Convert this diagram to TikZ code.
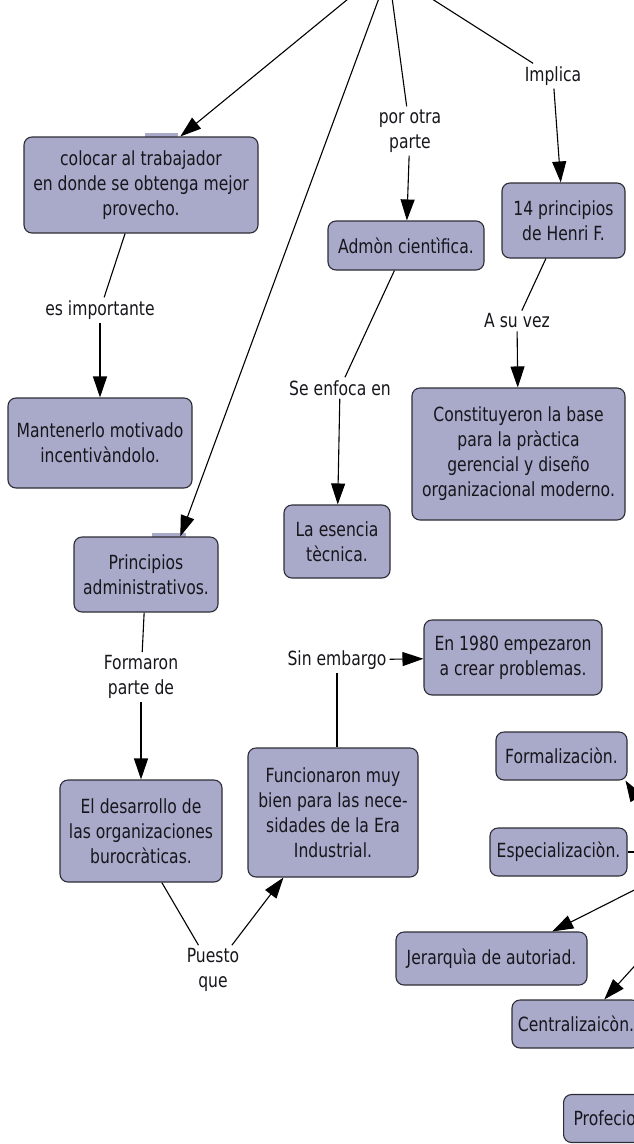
\documentclass[tikz,border=0pt]{standalone}
\usepackage{fontspec}
\setmainfont[FakeStretch=0.8]{DejaVu Sans}
\usetikzlibrary{arrows.meta}
\definecolor{cfill}{RGB}{169,169,201}
\definecolor{cline}{RGB}{45,45,55}
\definecolor{ctext}{RGB}{22,22,28}

\begin{document}
\begin{tikzpicture}[%
      x=1pt, y=-1pt,
      concept/.style={draw=cline, fill=cfill, line width=1.1pt, rounded corners=8pt,
        align=center, text=ctext, font=\fontsize{19.5}{25}\selectfont, inner sep=0pt},
      linkword/.style={align=center, text=ctext, font=\fontsize{19.5}{25}\selectfont, inner sep=3pt},
      link/.style={draw=black, line width=1.1pt},
      linkto/.style={link, -{Triangle[length=21pt,width=14pt]}},
      ]
      \useasboundingbox (0,0) rectangle (634,1144);
      \clip (0,0) rectangle (634,1144);

      % ends of the links that come from above and from the right
      \coordinate (topA) at (359,-10);
      \coordinate (topB) at (382,-10);
      \coordinate (topC) at (391,-10);
      \coordinate (topD) at (418,-10);
      \coordinate (hubF) at (655,828);
      \coordinate (hubE) at (660,852);
      \coordinate (hubJ) at (660,877);
      \coordinate (hubC) at (660,938);

      % concepts
      \fill [cfill] (145,133) rectangle (178,136.5);
      \fill [cfill] (152,533) rectangle (186,536.5);
      \node [concept, minimum width=234pt, minimum height=96pt] (colocar) at (141,185)
        {colocar al trabajador\\en donde se obtenga mejor\\provecho.};
      \node [concept, minimum width=184pt, minimum height=90pt] (mantener) at (100,443)
        {Mantenerlo motivado\\incentivàndolo.};
      \node [concept, minimum width=156pt, minimum height=49pt] (admon) at (406,245.5)
        {Admòn cientìfica.};
      \node [concept, minimum width=106pt, minimum height=73pt] (esencia) at (337,541.5)
        {La esencia\\tècnica.};
      \node [concept, minimum width=123pt, minimum height=75pt] (henri) at (563.5,220.5)
        {14 principios\\de Henri F.};
      \node [concept, minimum width=213pt, minimum height=132pt] (base) at (518.5,454)
        {Constituyeron la base\\para la pràctica\\gerencial y diseño\\organizacional moderno.};
      \node [concept, minimum width=144pt, minimum height=75pt] (principios) at (146,574.5)
        {Principios\\administrativos.};
      \node [concept, minimum width=162pt, minimum height=102pt] (desarrollo) at (141,831)
        {El desarrollo de\\las organizaciones\\burocràticas.};
      \node [concept, minimum width=170pt, minimum height=129pt] (funcionaron) at (333,812.5)
        {Funcionaron muy\\bien para las nece-\\sidades de la Era\\Industrial.};
      \node [concept, minimum width=178pt, minimum height=75pt] (problemas) at (513,657.5)
        {En 1980 empezaron\\a crear problemas.};
      \node [concept, minimum width=131pt, minimum height=48pt] (formal) at (561.5,756)
        {Formalizaciòn.};
      \node [concept, minimum width=137pt, minimum height=48pt] (especial) at (558.5,852)
        {Especializaciòn.};
      \node [concept, minimum width=191pt, minimum height=53pt] (jerarquia) at (491.5,958.5)
        {Jerarquìa de autoriad.};
      \node [concept, minimum width=128pt, minimum height=48pt] (central) at (576,1024)
        {Centralizaicòn.};
      \node [concept, minimum height=48pt, inner xsep=10pt, anchor=west] (profecio) at (563,1118.5)
        {Profecio};

      % linking words
      \node [linkword] (porotra) at (410,131) {por otra\\parte};
      \node [linkword] (implica) at (553,76) {Implica};
      \node [linkword] (esimp) at (100,310) {es importante};
      \node [linkword] (enfoca) at (340,388) {Se enfoca en};
      \node [linkword] (suvez) at (517,321) {A su vez};
      \node [linkword] (formaron) at (141,677) {Formaron\\parte de};
      \node [linkword] (sinemb) at (337,660) {Sin embargo};
      \node [linkword] (puesto) at (213,970) {Puesto\\que};

      % links
      \draw [linkto] (topA) -- (colocar.51);
      \draw [linkto] (topB) -- (principios.48);
      \draw [link] (topC) -- (porotra);
      \draw [linkto] (porotra) -- (admon);
      \draw [link] (topD) -- (implica);
      \draw [linkto] (implica) -- (henri);
      \draw [link] (colocar) -- (esimp);
      \draw [linkto] (esimp) -- (mantener);
      \draw [link] (admon) -- (enfoca);
      \draw [linkto] (enfoca) -- (esencia);
      \draw [link] (henri) -- (suvez);
      \draw [linkto] (suvez) -- (base);
      \draw [link] (principios) -- (formaron);
      \draw [linkto] (formaron) -- (desarrollo);
      \draw [link] (funcionaron.north -| sinemb) -- (sinemb);
      \draw [linkto] (sinemb) -- (problemas);
      \draw [link] (desarrollo.292) -- (puesto);
      \draw [linkto] (puesto) -- (funcionaron);
      \draw [linkto] (hubF) -- (formal.-21);
      \draw [link] (hubE) -- (especial.east);
      \draw [linkto] (hubJ) -- (jerarquia.24);
      \draw [linkto] (hubC) -- (central.41);
\end{tikzpicture}
\end{document}
